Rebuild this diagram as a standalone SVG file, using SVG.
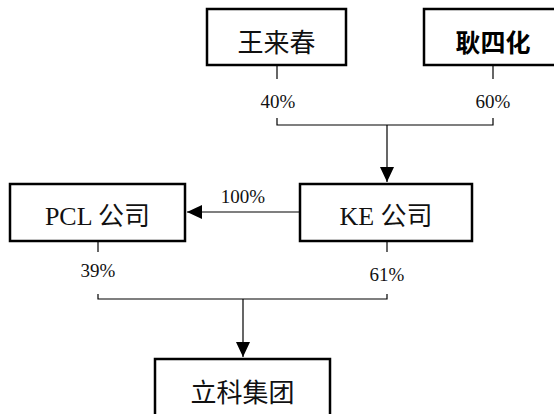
<svg xmlns="http://www.w3.org/2000/svg" width="554" height="414" viewBox="0 0 554 414">
<defs>
<style>
.box{fill:#fff;stroke:#000;stroke-width:2.5}
.ln{fill:none;stroke:#000;stroke-width:1.2}
.lbl{font-family:"Liberation Serif","Noto Sans CJK SC",serif;font-size:26px;text-anchor:middle;fill:#111}
.bold{font-family:"Noto Sans CJK SC",sans-serif;font-weight:bold;font-size:25px;text-anchor:middle;fill:#000}
.pct{font-family:"Liberation Serif",serif;font-size:19px;text-anchor:middle;fill:#111}
</style>
<marker id="ah" viewBox="0 0 15 14" refX="15" refY="7" markerWidth="15" markerHeight="14" markerUnits="userSpaceOnUse" orient="auto">
<path d="M0,0 L15,7 L0,14 Z" fill="#000"/>
</marker>
</defs>
<rect width="554" height="414" fill="#fff"/>
<g id="connectors">
<path class="ln" d="M277,66 V79"/>
<path class="ln" d="M493,66 V79"/>
<path class="ln" d="M277,118 V125 H493 V118"/>
<path class="ln" d="M387,125 V182" marker-end="url(#ah)"/>
<path class="ln" d="M299,212 H187" marker-end="url(#ah)"/>
<path class="ln" d="M98,242 V252"/>
<path class="ln" d="M387,242 V252"/>
<path class="ln" d="M98,294 V299 H387 V294"/>
<path class="ln" d="M243,299 V357" marker-end="url(#ah)"/>
<text class="pct" x="278" y="108">40%</text>
<text class="pct" x="493" y="108">60%</text>
<text class="pct" x="243" y="203">100%</text>
<text class="pct" x="98" y="277">39%</text>
<text class="pct" x="387" y="281">61%</text>
</g>
<g id="wang">
<rect class="box" x="207" y="9" width="139" height="56"/>
<text class="lbl" x="276.5" y="52">王来春</text>
</g>
<g id="geng">
<rect class="box" x="424" y="9" width="139" height="56"/>
<text class="bold" x="493" y="52">耿四化</text>
</g>
<g id="pcl">
<rect class="box" x="10" y="184" width="175" height="57"/>
<text class="lbl" x="97.5" y="225">PCL 公司</text>
</g>
<g id="ke">
<rect class="box" x="300" y="184" width="172" height="57"/>
<text class="lbl" x="386" y="225">KE 公司</text>
</g>
<g id="lixun">
<rect class="box" x="155" y="359" width="175" height="60"/>
<text class="lbl" x="242.5" y="402">立科集团</text>
</g>
</svg>
